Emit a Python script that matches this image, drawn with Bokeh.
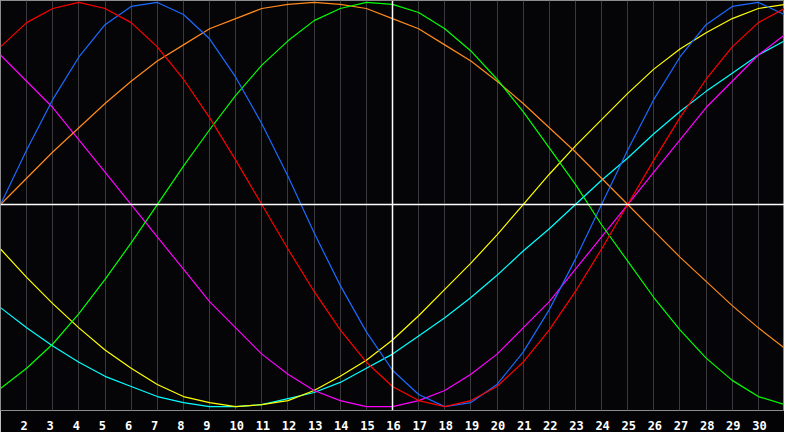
from bokeh.plotting import figure
from bokeh.models import Range1d, FixedTicker, CustomJSTickFormatter, Span
from bokeh.embed import file_html
from bokeh.resources import INLINE

# days of the month shown on the chart
days = list(range(1, 32))
tick_days = list(range(2, 31))

# curve values (percent), one per day
red = [78, 90, 97, 100, 97, 90, 78, 62, 43, 22, 0, -22, -43, -62, -78, -90,
       -97, -100, -97, -90, -78, -62, -43, -22, 0, 22, 43, 62, 78, 90, 97]
blue = [0, 27, 52, 73, 89, 98, 100, 94, 82, 63, 40, 14, -14, -40, -63, -82,
        -94, -100, -98, -89, -73, -52, -27, 0, 27, 52, 73, 89, 98, 100, 94]
green = [-91, -81, -69, -54, -37, -19, 0, 19, 37, 54, 69, 81, 91, 97, 100, 99,
         95, 87, 76, 62, 46, 28, 10, -10, -28, -46, -62, -76, -87, -95, -99]
orange = [0, 13, 26, 38, 50, 61, 71, 79, 87, 92, 97, 99, 100, 99, 97, 92,
          87, 79, 71, 61, 50, 38, 26, 13, 0, -13, -26, -38, -50, -61, -71]
magenta = [74, 61, 48, 32, 16, 0, -16, -32, -48, -61, -74, -84, -92, -97, -100, -100,
           -97, -92, -84, -74, -61, -48, -32, -16, 0, 16, 32, 48, 61, 74, 84]
yellow = [-22, -36, -49, -61, -72, -81, -89, -95, -98, -100, -99, -97, -92, -85, -77, -67,
          -55, -42, -29, -15, 0, 15, 29, 42, 55, 67, 77, 85, 92, 97, 99]
cyan = [-51, -61, -70, -78, -85, -90, -95, -98, -100, -100, -99, -96, -93, -88, -81, -74,
        -65, -56, -46, -35, -23, -12, 0, 12, 23, 35, 46, 56, 65, 74, 81]

today = 16

p = figure(width=784, height=432, output_backend="svg", toolbar_location=None,
           x_range=Range1d(1, 31), y_range=Range1d(-101.9, 100.95),
           y_axis_location=None, min_border_left=0, min_border_right=0,
           min_border_top=0, min_border_bottom=20)
p.background_fill_color = "#050508"
p.border_fill_color = "#030305"
p.outline_line_color = "#8c8c8c"

p.ygrid.visible = False
p.xgrid.ticker = FixedTicker(ticks=days)
p.xgrid.grid_line_color = "#3a3a3e"

# labels sit slightly left of their grid line
p.xaxis.ticker = FixedTicker(ticks=[d - 0.1 if d < 10 else d + 0.04 for d in tick_days])
p.xaxis.formatter = CustomJSTickFormatter(code="return Math.round(tick).toString()")
p.xaxis.axis_line_color = None
p.xaxis.major_tick_line_color = None
p.xaxis.minor_tick_line_color = None
p.xaxis.major_label_standoff = 4
p.xaxis.major_label_text_color = "white"
p.xaxis.major_label_text_font = "DejaVu Sans Mono"
p.xaxis.major_label_text_font_style = "bold"
p.xaxis.major_label_text_font_size = "12px"

p.add_layout(Span(location=0, dimension="width", line_color="white", line_width=1.5))
p.add_layout(Span(location=today, dimension="height", line_color="white", line_width=1.5))

for vals, col in [(cyan, "#00ffff"), (yellow, "#ffff00"), (magenta, "#ff00ff"),
                  (orange, "#ff8a1a"), (green, "#00ff00"), (blue, "#1a6bff"),
                  (red, "#ff0000")]:
    p.line(days, vals, line_color=col, line_width=1.2)

open("out.html", "w").write(file_html(p, INLINE))
